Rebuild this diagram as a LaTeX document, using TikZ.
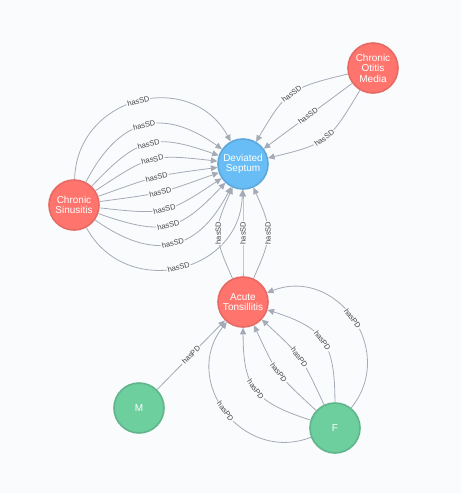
\documentclass[tikz,border=0pt]{standalone}
\usepackage{fontspec}
\setmainfont{Liberation Sans}
\usetikzlibrary{arrows.meta,positioning}
\definecolor{GraphBg}{HTML}{F9FBFD}
\definecolor{GraphRed}{HTML}{FF756E}
\definecolor{GraphRedLine}{HTML}{E66A63}
\definecolor{GraphBlue}{HTML}{68BDF6}
\definecolor{GraphBlueLine}{HTML}{5CA8DB}
\definecolor{GraphGreen}{HTML}{6DCE9E}
\definecolor{GraphGreenLine}{HTML}{60B58B}
\definecolor{GraphEdge}{HTML}{A5ABB6}
\definecolor{GraphInk}{HTML}{444444}
\tikzset{
  nodetext/.style={font=\fontsize{10}{10.5}\selectfont, text=white},
  reltext/.style={font=\fontsize{7.5}{8}\selectfont, text=GraphInk},
  nodecircle/.style={circle, minimum size=50pt, inner sep=0pt, line width=1.6pt, nodetext, align=center},
  rednode/.style={nodecircle, fill=GraphRed, draw=GraphRedLine},
  bluenode/.style={nodecircle, fill=GraphBlue, draw=GraphBlueLine},
  greennode/.style={nodecircle, fill=GraphGreen, draw=GraphGreenLine},
  relarrow/.style={-{Triangle[length=6.5pt, width=6pt]}, line width=0.8pt, draw=GraphEdge, looseness=1.33},
  rellabel/.style={reltext, sloped, fill=GraphBg, inner sep=1pt}
}

\begin{document}
\begin{tikzpicture}[x=1pt, y=-1pt]
\useasboundingbox[fill=GraphBg] (0,0) rectangle (461,493);
% nodes
\node[bluenode] (septum) at (243,164) {Deviated\\Septum};
\node[rednode] (otitis) at (373,68) {Chronic\\Otitis\\Media};
\node[rednode] (sinus) at (74,205) {Chronic\\Sinusitis};
\node[rednode] (tonsil) at (243,302) {Acute\\Tonsillitis};
\node[greennode] (male) at (139,408) {M};
\node[greennode] (female) at (335,428) {F};
% relationships
\foreach \b in {-75,-49,-33,-20,-6,6,20,33,49,75}
  \draw[relarrow] (sinus) to[bend left=\b] node[rellabel] {hasSD} (septum);
\foreach \b in {-23,0,23}
  \draw[relarrow] (otitis) to[bend left=\b] node[rellabel] {hasSD} (septum);
\foreach \b in {-24,0,24}
  \draw[relarrow] (tonsil) to[bend left=\b] node[rellabel] {hasSD} (septum);
\draw[relarrow] (male) -- node[rellabel] {hasPD} (tonsil);
\foreach \b in {-75,-36,-11,11,36,75}
  \draw[relarrow] (female) to[bend left=\b] node[rellabel] {hasPD} (tonsil);
\end{tikzpicture}
\end{document}
